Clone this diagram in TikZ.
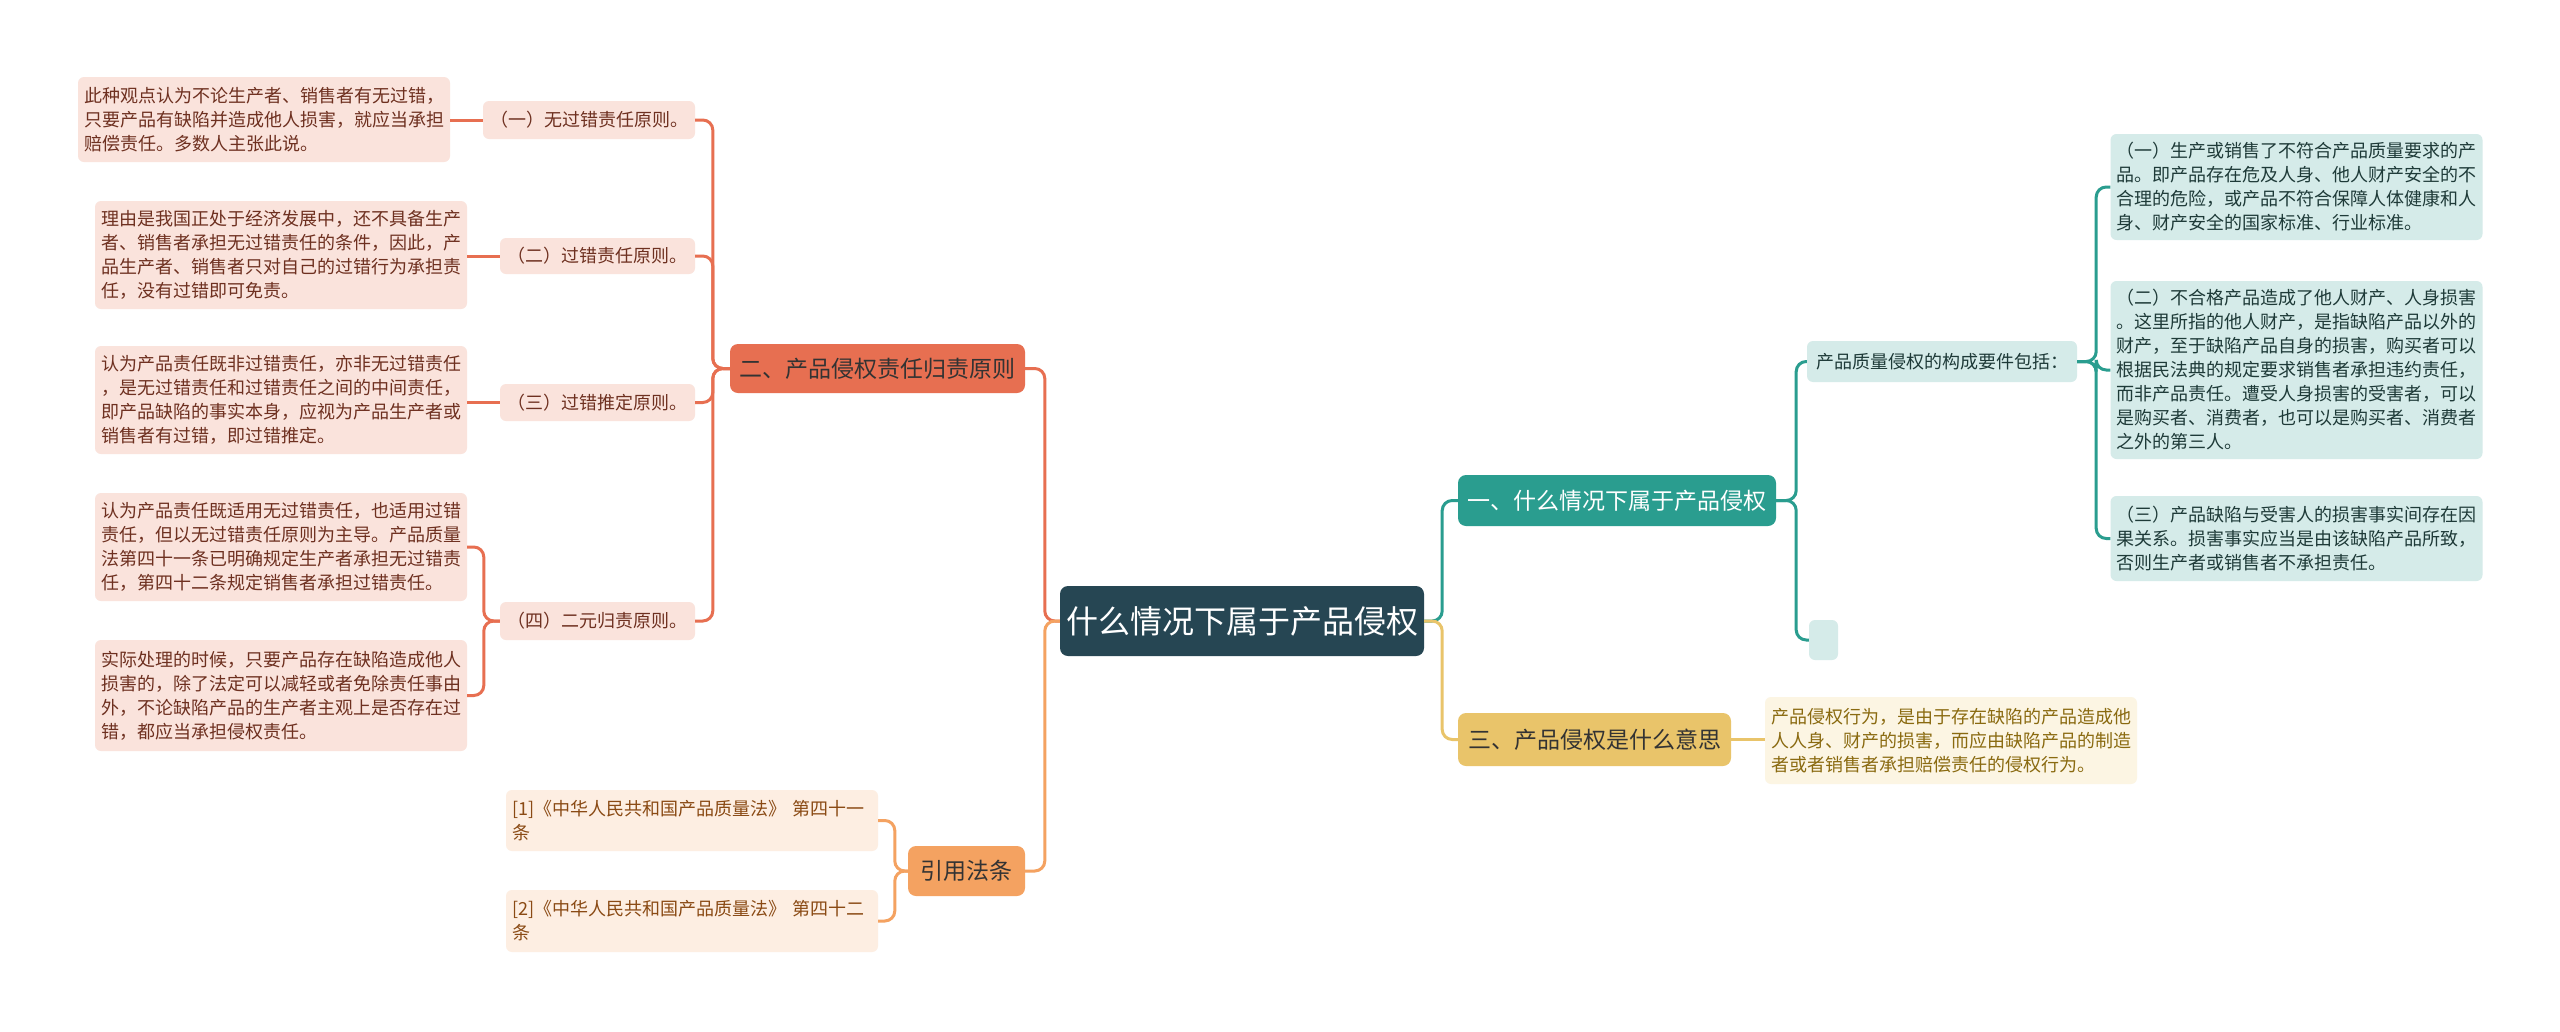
\documentclass[tikz,border=0pt]{standalone}
\usepackage{fontspec}
\setmainfont{Noto Sans CJK SC}
\definecolor{cDark}{HTML}{264653}
\definecolor{cTeal}{HTML}{2A9D8F}
\definecolor{cYel}{HTML}{E9C46A}
\definecolor{cSand}{HTML}{F4A261}
\definecolor{cRed}{HTML}{E76F51}
\definecolor{fRed}{HTML}{FAE3DC}
\definecolor{tRed}{HTML}{6E3020}
\definecolor{fSand}{HTML}{FDEEE2}
\definecolor{tSand}{HTML}{8A4A14}
\definecolor{fTeal}{HTML}{D5EBE9}
\definecolor{tTeal}{HTML}{1E3A38}
\definecolor{fYel}{HTML}{FCF5E3}
\definecolor{tYel}{HTML}{8A6A10}
\begin{document}
\begin{tikzpicture}[x=1pt,y=-1pt,
  box/.style={rounded corners=6pt, inner ysep=0pt, inner xsep=6pt},
  leaf/.style={box, align=left, text width=360pt, font=\fontsize{18}{24}\selectfont},
  lred/.style={leaf, fill=fRed, text=tRed},
  lsand/.style={leaf, fill=fSand, text=tSand},
  lteal/.style={leaf, fill=fTeal, text=tTeal},
  lyel/.style={leaf, fill=fYel, text=tYel},
  sub/.style={box, align=center, font=\fontsize{18}{24}\selectfont},
  branch/.style={rounded corners=8pt, inner sep=0pt, align=center, font=\fontsize{23}{28}\selectfont},
  conn/.style={line width=3pt, rounded corners=10pt}
]
\fill[white] (0,0) rectangle (2560,1031);
\useasboundingbox (0,0) rectangle (2560,1031);

% center
\node[branch, fill=cDark, text=white, font=\fontsize{32}{36}\selectfont, minimum width=364pt, minimum height=70pt] (c) at (1242,621) {什么情况下属于产品侵权};

% left branch 二
\node[branch, fill=cRed, text=black!80, minimum width=295pt, minimum height=49pt] (er) at (877.5,368.5) {二、产品侵权责任归责原则};
\node[sub, fill=fRed, text=tRed, minimum width=212pt, minimum height=38pt] (s1) at (589,120) {（一）无过错责任原则。};
\node[sub, fill=fRed, text=tRed, minimum width=195pt, minimum height=36pt] (s2) at (597.5,256) {（二）过错责任原则。};
\node[sub, fill=fRed, text=tRed, minimum width=195pt, minimum height=37pt] (s3) at (597.5,402.5) {（三）过错推定原则。};
\node[sub, fill=fRed, text=tRed, minimum width=195pt, minimum height=38pt] (s4) at (597.5,621) {（四）二元归责原则。};

\node[lred, minimum height=85pt] (l1) at (264,119.5) {此种观点认为不论生产者、销售者有无过错，\\只要产品有缺陷并造成他人损害，就应当承担\\赔偿责任。多数人主张此说。};
\node[lred, minimum height=108pt] (l2) at (281,255) {理由是我国正处于经济发展中，还不具备生产\\者、销售者承担无过错责任的条件，因此，产\\品生产者、销售者只对自己的过错行为承担责\\任，没有过错即可免责。};
\node[lred, minimum height=108pt] (l3) at (281,400) {认为产品责任既非过错责任，亦非无过错责任\\，是无过错责任和过错责任之间的中间责任，\\即产品缺陷的事实本身，应视为产品生产者或\\销售者有过错，即过错推定。};
\node[lred, minimum height=108pt] (l4a) at (281,547) {认为产品责任既适用无过错责任，也适用过错\\责任，但以无过错责任原则为主导。产品质量\\法第四十一条已明确规定生产者承担无过错责\\任，第四十二条规定销售者承担过错责任。};
\node[lred, minimum height=111pt] (l4b) at (281,695.5) {实际处理的时候，只要产品存在缺陷造成他人\\损害的，除了法定可以减轻或者免除责任事由\\外，不论缺陷产品的生产者主观上是否存在过\\错，都应当承担侵权责任。};

% left branch 引用法条
\node[branch, fill=cSand, text=black!80, minimum width=117pt, minimum height=50pt] (yf) at (966.5,871) {引用法条};
\node[lsand, minimum height=61pt] (r1) at (692,820.5) {[1]《中华人民共和国产品质量法》 第四十一\\条};
\node[lsand, minimum height=62pt] (r2) at (692,921) {[2]《中华人民共和国产品质量法》 第四十二\\条};

% right branch 一
\node[branch, fill=cTeal, text=white, minimum width=318pt, minimum height=51pt] (one) at (1617,500.5) {一、什么情况下属于产品侵权};
\node[sub, fill=fTeal, text=tTeal, minimum width=270pt, minimum height=41pt] (pq) at (1942,361.5) {产品质量侵权的构成要件包括：};
\node[box, fill=fTeal, minimum width=29pt, minimum height=40pt, inner xsep=0pt] (emp) at (1823.5,640) {};
\node[lteal, minimum height=106pt] (ra) at (2296.5,187) {（一）生产或销售了不符合产品质量要求的产\\品。即产品存在危及人身、他人财产安全的不\\合理的危险，或产品不符合保障人体健康和人\\身、财产安全的国家标准、行业标准。};
\node[lteal, minimum height=178pt] (rb) at (2296.5,370) {（二）不合格产品造成了他人财产、人身损害\\。这里所指的他人财产，是指缺陷产品以外的\\财产，至于缺陷产品自身的损害，购买者可以\\根据民法典的规定要求销售者承担违约责任，\\而非产品责任。遭受人身损害的受害者，可以\\是购买者、消费者，也可以是购买者、消费者\\之外的第三人。};
\node[lteal, minimum height=85pt] (rc) at (2296.5,538.5) {（三）产品缺陷与受害人的损害事实间存在因\\果关系。损害事实应当是由该缺陷产品所致，\\否则生产者或销售者不承担责任。};

% right branch 三
\node[branch, fill=cYel, text=black!80, minimum width=273pt, minimum height=53pt] (three) at (1594.5,739.5) {三、产品侵权是什么意思};
\node[lyel, minimum height=87pt] (t) at (1951,740.5) {产品侵权行为，是由于存在缺陷的产品造成他\\人人身、财产的损害，而应由缺陷产品的制造\\者或者销售者承担赔偿责任的侵权行为。};

% connectors
\draw[conn, cRed] (c.west) -- ++(-15,0) |- (er.east);
\draw[conn, cSand] (c.west) -- ++(-15,0) |- (yf.east);
\draw[conn, cTeal] (c.east) -- ++(18,0) |- (one.west);
\draw[conn, cYel] (c.east) -- ++(18,0) |- (three.west);

\foreach \n in {s1,s2,s3,s4}
  \draw[conn, cRed] (er.west) -- ++(-17,0) |- (\n.east);
\draw[conn, cRed] (s1.west) -- (l1.east |- s1.west);
\draw[conn, cRed] (s2.west) -- (l2.east |- s2.west);
\draw[conn, cRed] (s3.west) -- (l3.east |- s3.west);
\draw[conn, cRed] (s4.west) -- ++(-16,0) |- (l4a.east);
\draw[conn, cRed] (s4.west) -- ++(-16,0) |- (l4b.east);

\draw[conn, cSand] (yf.west) -- ++(-13,0) |- (r1.east);
\draw[conn, cSand] (yf.west) -- ++(-13,0) |- (r2.east);

\draw[conn, cTeal] (one.east) -- ++(20,0) |- (pq.west);
\draw[conn, cTeal] (one.east) -- ++(20,0) |- (emp.west);
\draw[conn, cTeal] (pq.east) -- ++(19,0) |- (ra.west);
\draw[conn, cTeal] (pq.east) -- ++(19,0) |- (rb.west);
\draw[conn, cTeal] (pq.east) -- ++(19,0) |- (rc.west);

\draw[conn, cYel] (three.east) -- (t.west |- three.east);
\end{tikzpicture}
\end{document}
